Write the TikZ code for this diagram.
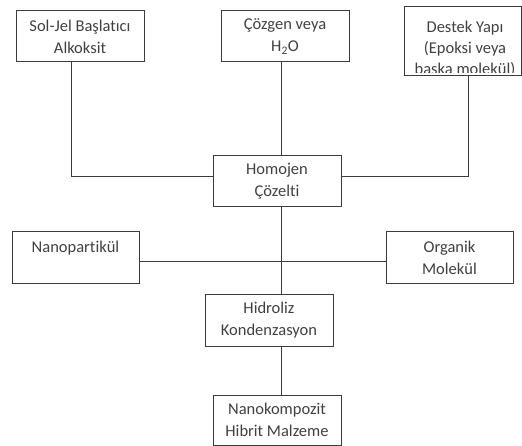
\documentclass[tikz,border=0pt]{standalone}
\usepackage{fontspec}
\setmainfont{Carlito}[Ligatures=NoCommon]
\definecolor{linec}{HTML}{3C3C3C}
\definecolor{txtc}{HTML}{404040}
\begin{document}
\begin{tikzpicture}[x=1pt,y=-1pt,
  box/.style={draw=linec, line width=1pt, rectangle, inner sep=0pt,
    minimum width=128pt, minimum height=51pt, align=center, text=txtc,
    font=\fontsize{16.5}{22}\selectfont},
  conn/.style={draw=linec, line width=1pt}]
\useasboundingbox (0,0) rectangle (522,446);
\node[box] (b1) at (80,36.5) {Sol-Jel Başlatıcı\\Alkoksit};
\node[box] (b2) at (285,36.5) {Çözgen veya\\H\textsubscript{2}O};
\node[box, minimum width=117pt, minimum height=69pt] (b3) at (462.5,41.5) {};
\begin{scope}
  \clip (b3.north west) rectangle ([yshift=4pt]b3.south east);
  \node[box, draw=none, font=\fontsize{16.5}{21}\selectfont] (b3t) at (465,49) {Destek Yapı\\(Epoksi veya\\başka molekül)};
\end{scope}
\node[box] (hom) at (277,181) {Homojen\\Çözelti};
\node[box, minimum width=127pt, minimum height=52pt] (nano) at (75.5,258) {Nanopartikül\\\phantom{M}};
\node[box, minimum width=127pt, minimum height=52pt] (org) at (449.5,258) {Organik\\Molekül};
\node[box] (hid) at (269,320.5) {Hidroliz\\Kondenzasyon};
\node[box, minimum height=50pt] (nk) at (277,420) {Nanokompozit\\Hibrit Malzeme};
\draw[conn] ([xshift=-9pt]b1.south) |- ([yshift=4pt]hom.west);
\draw[conn] ([xshift=-4pt]b2.south) -- ([xshift=4pt]hom.north);
\draw[conn] ([xshift=5.5pt]b3.south) |- ([yshift=4pt]hom.east);
\draw[conn] ([xshift=4pt]hom.south) -- ([xshift=12pt]hid.north);
\draw[conn] ([xshift=12pt]hid.south) -- ([xshift=4pt]nk.north);
\draw[conn] ([yshift=-4pt]nano.east) -- ([yshift=-4pt]org.west);
\end{tikzpicture}
\end{document}
